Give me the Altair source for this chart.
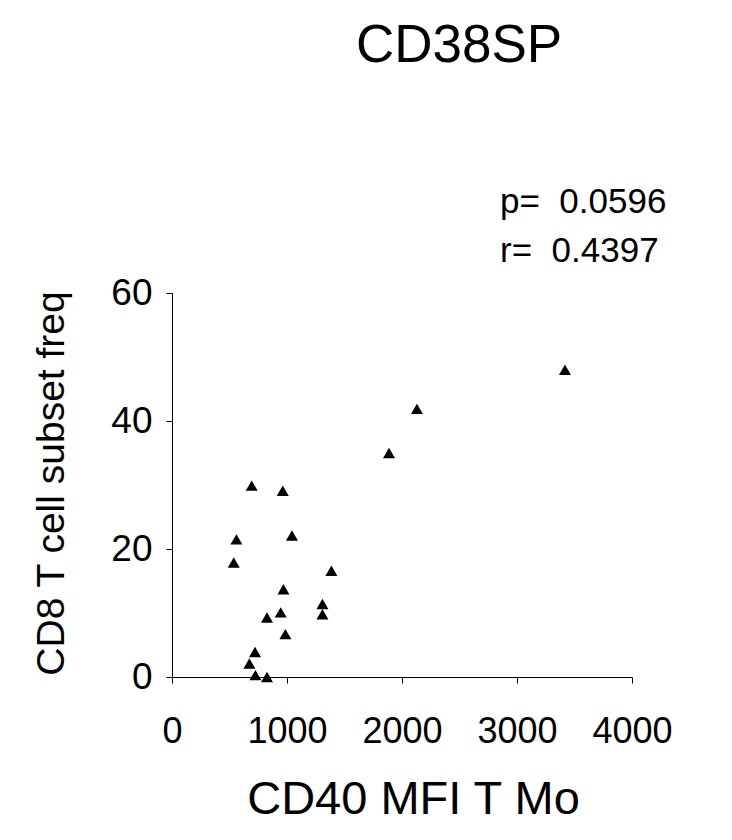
import altair as alt
import pandas as pd

# Data
cd40_mfi = [3417, 2130, 1887, 693, 963, 560, 1043, 537, 1386, 969, 1308, 1308, 945, 826, 986, 722, 673, 725, 826]
cd8_freq = [48.0, 41.9, 35.0, 29.9, 29.1, 21.5, 22.1, 17.9, 16.6, 13.7, 11.4, 9.8, 10.1, 9.3, 6.7, 3.9, 2.1, 0.3, 0.0]
x_ticks = [0, 1000, 2000, 3000, 4000]
y_ticks = [0, 20, 40, 60]
p_value = "0.0596"
r_value = "0.4397"
stat_lines = [f"p=\u00a0 {p_value}", f"r=\u00a0 {r_value}"]

FONT = "Liberation Sans, Arial, Helvetica, sans-serif"

df = pd.DataFrame({"mfi": cd40_mfi, "freq": cd8_freq})

points = alt.Chart(df).mark_point(
    shape="triangle-up", filled=True, size=144, color="black", opacity=1, strokeWidth=0
).encode(
    x=alt.X(
        "mfi:Q",
        scale=alt.Scale(domain=[0, 4000], nice=False, zero=True),
        axis=alt.Axis(
            values=x_ticks,
            format="d",
            labelOverlap=False,
            labelFlush=False,
            title="CD40 MFI T Mo",
            titleFontSize=47,
            titleFont=FONT,
            titleFontWeight="normal",
            titleColor="black",
            titleX=241,
            titleY=136,
            titleAnchor="middle",
            titleAlign="center",
            titleBaseline="alphabetic",
            labelFontSize=36,
            labelFont=FONT,
            labelColor="black",
            labelBaseline="alphabetic",
            labelPadding=59,
            tickSize=6,
            tickColor="black",
            domainColor="black",
            grid=False,
        ),
    ),
    y=alt.Y(
        "freq:Q",
        scale=alt.Scale(domain=[0, 60], nice=False, zero=True),
        axis=alt.Axis(
            values=y_ticks,
            format="d",
            labelOverlap=False,
            labelFlush=False,
            title="CD8 T cell subset freq",
            titleFontSize=39,
            titleFont=FONT,
            titleFontWeight="normal",
            titleColor="black",
            titleAngle=270,
            titleX=-109,
            titleY=190,
            titleAlign="center",
            titleBaseline="alphabetic",
            labelFontSize=37,
            labelFont=FONT,
            labelColor="black",
            labelAlign="right",
            labelBaseline="middle",
            labelPadding=14,
            tickSize=6,
            tickColor="black",
            domainColor="black",
            grid=False,
        ),
    ),
)

stats = alt.Chart(pd.DataFrame({"k": [0]})).mark_text(
    text=stat_lines,
    align="left",
    baseline="alphabetic",
    font=FONT,
    fontSize=35,
    lineHeight=49,
    color="black",
).encode(x=alt.value(328), y=alt.value(-80))

chart = alt.layer(points, stats).properties(
    width=460,
    height=384,
    background="white",
    title=alt.TitleParams(
        "CD38SP",
        font=FONT,
        fontSize=53,
        fontWeight="normal",
        color="black",
        anchor="middle",
        dx=57,
        baseline="alphabetic",
        offset=70,
    ),
    autosize=alt.AutoSizeParams(type="none"),
    padding={"left": 164, "top": 285, "right": 90, "bottom": 150},
).configure_view(stroke="transparent", strokeWidth=0).configure_axis(
    domainColor="black", tickColor="black", domainWidth=1, tickWidth=1
)

chart.save("out.html", embed_options={"renderer": "svg", "actions": False})
